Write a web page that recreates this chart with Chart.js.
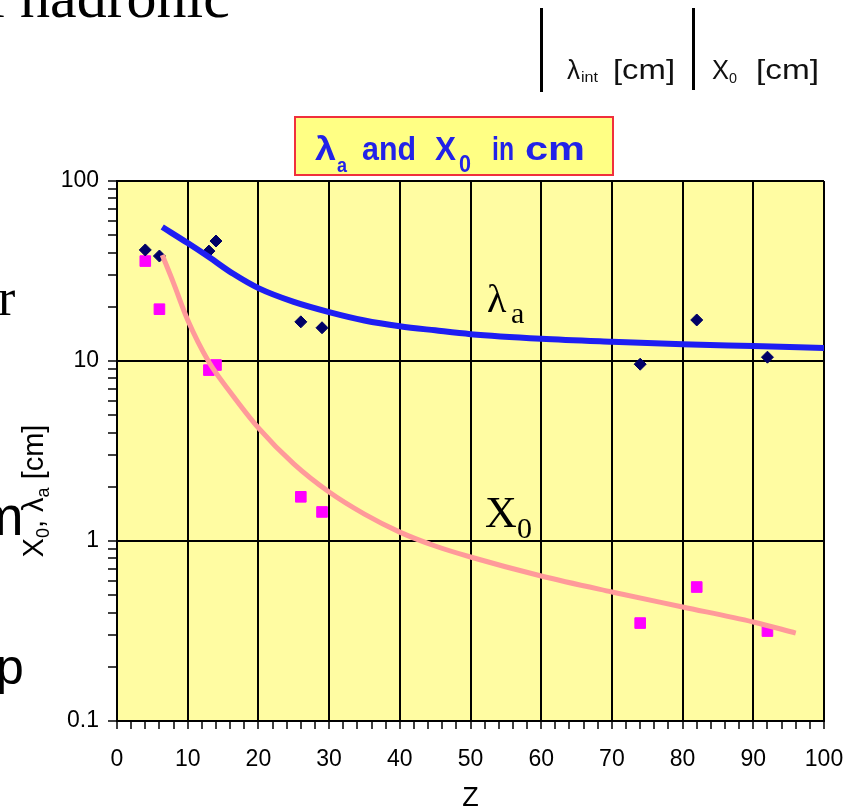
<!DOCTYPE html>
<html>
<head>
<meta charset="utf-8">
<script src="https://cdn.jsdelivr.net/npm/chart.js@4/dist/chart.umd.min.js"></script>
<style>
html,body{margin:0;padding:0;background:#ffffff;overflow:hidden}
canvas{display:block}
</style>
</head>
<body>
<canvas id="c" width="846" height="812"></canvas>
<script>
// ---- data ----
const zLambda   = [4, 6, 13, 14, 26, 29, 74, 82, 92];
const lambdaCm  = [41.4, 38.3, 40.8, 46.4, 16.5, 15.3, 9.6, 16.9, 10.5];
const zX0       = [4, 6, 13, 14, 26, 29, 74, 82, 92];
const x0Cm      = [35.9, 19.4, 8.9, 9.5, 1.76, 1.45, 0.35, 0.555, 0.316];

const zLambdaFit = [6.4, 10, 13, 16.5, 20, 25, 30, 35, 40, 45, 50, 60, 70, 80, 90, 100];
const lambdaFit  = [55.5, 45.2, 37.8, 30.4, 25.4, 21.3, 18.7, 16.8, 15.6, 14.8, 14.1, 13.3, 12.8, 12.4, 12.1, 11.8];
const zX0Fit     = [6.4, 8, 10, 13, 16, 20, 25, 30, 35, 40, 45, 50, 60, 70, 80, 90, 96];
const x0Fit      = [38.8, 27.1, 16.9, 9.87, 6.73, 4.25, 2.68, 1.87, 1.41, 1.12, 0.938, 0.815, 0.639, 0.521, 0.43, 0.355, 0.308];

const xTickLabels = [0, 10, 20, 30, 40, 50, 60, 70, 80, 90, 100];
const yTickLabels = [0.1, 1, 10, 100];

// minor tick positions (every 2 on x, 1..9 per decade on y)
const xTickValues = [];
for (let v = 0; v <= 100; v += 2) xTickValues.push(v);
const yTickValues = [];
for (let e = -1; e <= 1; e++) for (let m = 1; m <= 9; m++) yTickValues.push(Number((m * Math.pow(10, e)).toPrecision(3)));
yTickValues.push(100);

const toXY = (xs, ys) => xs.map((x, i) => ({x: x, y: ys[i]}));

function fitText(ctx, str, x, y, font, w) {
  ctx.save();
  ctx.font = font;
  const mw = ctx.measureText(str).width;
  ctx.translate(x, y);
  if (w) ctx.scale(w / mw, 1);
  ctx.fillText(str, 0, 0);
  ctx.restore();
}

const deco = {
  id: 'deco',
  beforeDraw(chart) {
    const ctx = chart.ctx, a = chart.chartArea;
    ctx.save();
    ctx.fillStyle = '#ffffff';
    ctx.fillRect(0, 0, chart.width, chart.height);
    ctx.fillStyle = '#FFFCA2';
    ctx.fillRect(a.left, a.top, a.right - a.left, a.bottom - a.top);
    ctx.restore();
  },
  afterDraw(chart) {
    const ctx = chart.ctx;
    ctx.save();
    ctx.textBaseline = 'alphabetic';
    ctx.textAlign = 'left';

    // slide fragments
    ctx.fillStyle = '#000';
    ctx.font = '60px "Liberation Serif"';
    const lw = ctx.measureText('l ').width;
    ctx.fillText('l hadronic', 20 - lw, 17);
    ctx.font = '52px "Liberation Serif"';
    ctx.fillText('r', -2, 315);
    ctx.font = '56px "Liberation Sans"';
    ctx.fillText('m', -23, 535);
    ctx.font = '50px "Liberation Sans"';
    ctx.fillText('p', -4, 684);

    // table header
    ctx.fillStyle = '#000';
    ctx.fillRect(540, 8, 3, 84);
    ctx.fillRect(692, 8, 3, 82);
    ctx.fillStyle = '#111';
    fitText(ctx, 'λ', 567, 79, '27px "Liberation Sans"', 13);
    fitText(ctx, 'int', 581, 82, '14px "Liberation Sans"', 17);
    fitText(ctx, '[cm]', 613, 79, '27px "Liberation Sans"', 62);
    fitText(ctx, 'X', 712, 79, '27px "Liberation Sans"', 17);
    fitText(ctx, '0', 729, 83, '15px "Liberation Sans"', 8);
    fitText(ctx, '[cm]', 756, 79, '27px "Liberation Sans"', 63);

    // title box
    ctx.fillStyle = '#FFFF84';
    ctx.fillRect(295, 117, 318, 58);
    ctx.strokeStyle = '#F0303C';
    ctx.lineWidth = 2;
    ctx.strokeRect(295, 117, 318, 58);
    ctx.fillStyle = '#2222E8';
    fitText(ctx, 'λ', 315, 160, 'bold 34px "Liberation Sans"', 21);
    fitText(ctx, 'a', 337, 172, 'bold 20px "Liberation Sans"', 10);
    fitText(ctx, 'and', 362, 160, 'bold 34px "Liberation Sans"', 54);
    fitText(ctx, 'X', 435, 160, 'bold 34px "Liberation Sans"', 21);
    fitText(ctx, '0', 459, 172, 'bold 24px "Liberation Sans"', 12);
    fitText(ctx, 'in', 492, 160, 'bold 34px "Liberation Sans"', 22);
    fitText(ctx, 'cm', 525, 160, 'bold 34px "Liberation Sans"', 60);

    // in-plot curve labels
    ctx.fillStyle = '#000';
    ctx.font = '40px "Liberation Serif"';
    ctx.fillText('λ', 487, 312);
    ctx.font = '30px "Liberation Serif"';
    ctx.fillText('a', 511, 323);
    ctx.font = '44px "Liberation Serif"';
    ctx.fillText('X', 485, 527);
    ctx.font = '30px "Liberation Serif"';
    ctx.fillText('0', 517, 538);

    // y-axis title (rotated)
    ctx.save();
    ctx.translate(43, 491);
    ctx.rotate(-Math.PI / 2);
    const parts = [
      ['X', '29px "Liberation Sans"', 0],
      ['0', '18px "Liberation Sans"', 6],
      [', ', '29px "Liberation Sans"', 0],
      ['λ', '29px "Liberation Sans"', 0],
      ['a', '18px "Liberation Sans"', 6],
      [' [cm]', '29px "Liberation Sans"', 0]
    ];
    let total = 0;
    parts.forEach(p => { ctx.font = p[1]; total += ctx.measureText(p[0]).width; });
    let px = -total / 2;
    ctx.fillStyle = '#000';
    parts.forEach(p => { ctx.font = p[1]; ctx.fillText(p[0], px, p[2]); px += ctx.measureText(p[0]).width; });
    ctx.restore();

    ctx.restore();
  }
};

Chart.defaults.font.family = '"Liberation Sans", Arial, sans-serif';
Chart.defaults.color = '#000';

new Chart(document.getElementById('c').getContext('2d'), {
  type: 'scatter',
  data: {
    datasets: [
      {
        label: 'λa fit',
        data: toXY(zLambdaFit, lambdaFit),
        showLine: true,
        borderColor: '#1E1EF2',
        borderWidth: 6,
        pointRadius: 0,
        cubicInterpolationMode: 'monotone',
        order: 0
      },
      {
        label: 'X0 fit',
        data: toXY(zX0Fit, x0Fit),
        showLine: true,
        borderColor: '#FF9A9A',
        borderWidth: 5,
        pointRadius: 0,
        cubicInterpolationMode: 'monotone',
        order: 1
      },
      {
        label: 'λa',
        data: toXY(zLambda, lambdaCm),
        pointStyle: 'rectRot',
        pointRadius: 6,
        backgroundColor: '#000066',
        borderColor: '#000066',
        borderWidth: 1,
        order: 2
      },
      {
        label: 'X0',
        data: toXY(zX0, x0Cm),
        pointStyle: 'rect',
        pointRadius: 7.5,
        backgroundColor: '#FF00FF',
        borderColor: '#FF00FF',
        borderWidth: 1,
        order: 3
      }
    ]
  },
  options: {
    responsive: false,
    animation: false,
    events: [],
    layout: { padding: { top: 181, right: 22, bottom: 0, left: 0 } },
    plugins: { legend: { display: false }, tooltip: { enabled: false }, title: { display: false } },
    scales: {
      x: {
        type: 'linear',
        min: 0, max: 100,
        afterBuildTicks: s => { s.ticks = xTickValues.map(v => ({ value: v })); },
        afterFit: s => { s.height = 91; s.paddingLeft = 0; s.paddingRight = 0; },
        ticks: {
          autoSkip: false, maxRotation: 0, minRotation: 0, padding: 17,
          color: '#000', font: { size: 23 },
          callback: v => xTickLabels.includes(v) ? String(v) : ''
        },
        grid: {
          color: c => (c.tick && xTickLabels.includes(c.tick.value)) ? '#000' : 'rgba(0,0,0,0)',
          lineWidth: 2, tickColor: '#000', tickLength: 8, tickWidth: 1.5
        },
        border: { color: '#000', width: 2 },
        title: { display: true, text: 'Z', color: '#000', font: { size: 27 }, padding: { top: 0, bottom: -3 } }
      },
      y: {
        type: 'logarithmic',
        min: 0.1, max: 100,
        afterBuildTicks: s => { s.ticks = yTickValues.map(v => ({ value: v })); },
        afterFit: s => { s.width = 117; s.paddingTop = 0; s.paddingBottom = 0; },
        ticks: {
          autoSkip: false, padding: 9,
          color: '#000', font: { size: 23 },
          callback: v => yTickLabels.includes(v) ? String(v) : ''
        },
        grid: {
          color: c => (c.tick && yTickLabels.includes(c.tick.value)) ? '#000' : 'rgba(0,0,0,0)',
          lineWidth: 2, tickColor: '#000', tickLength: 9, tickWidth: 1.5
        },
        border: { color: '#000', width: 2 }
      }
    }
  },
  plugins: [deco]
});
</script>
</body>
</html>
